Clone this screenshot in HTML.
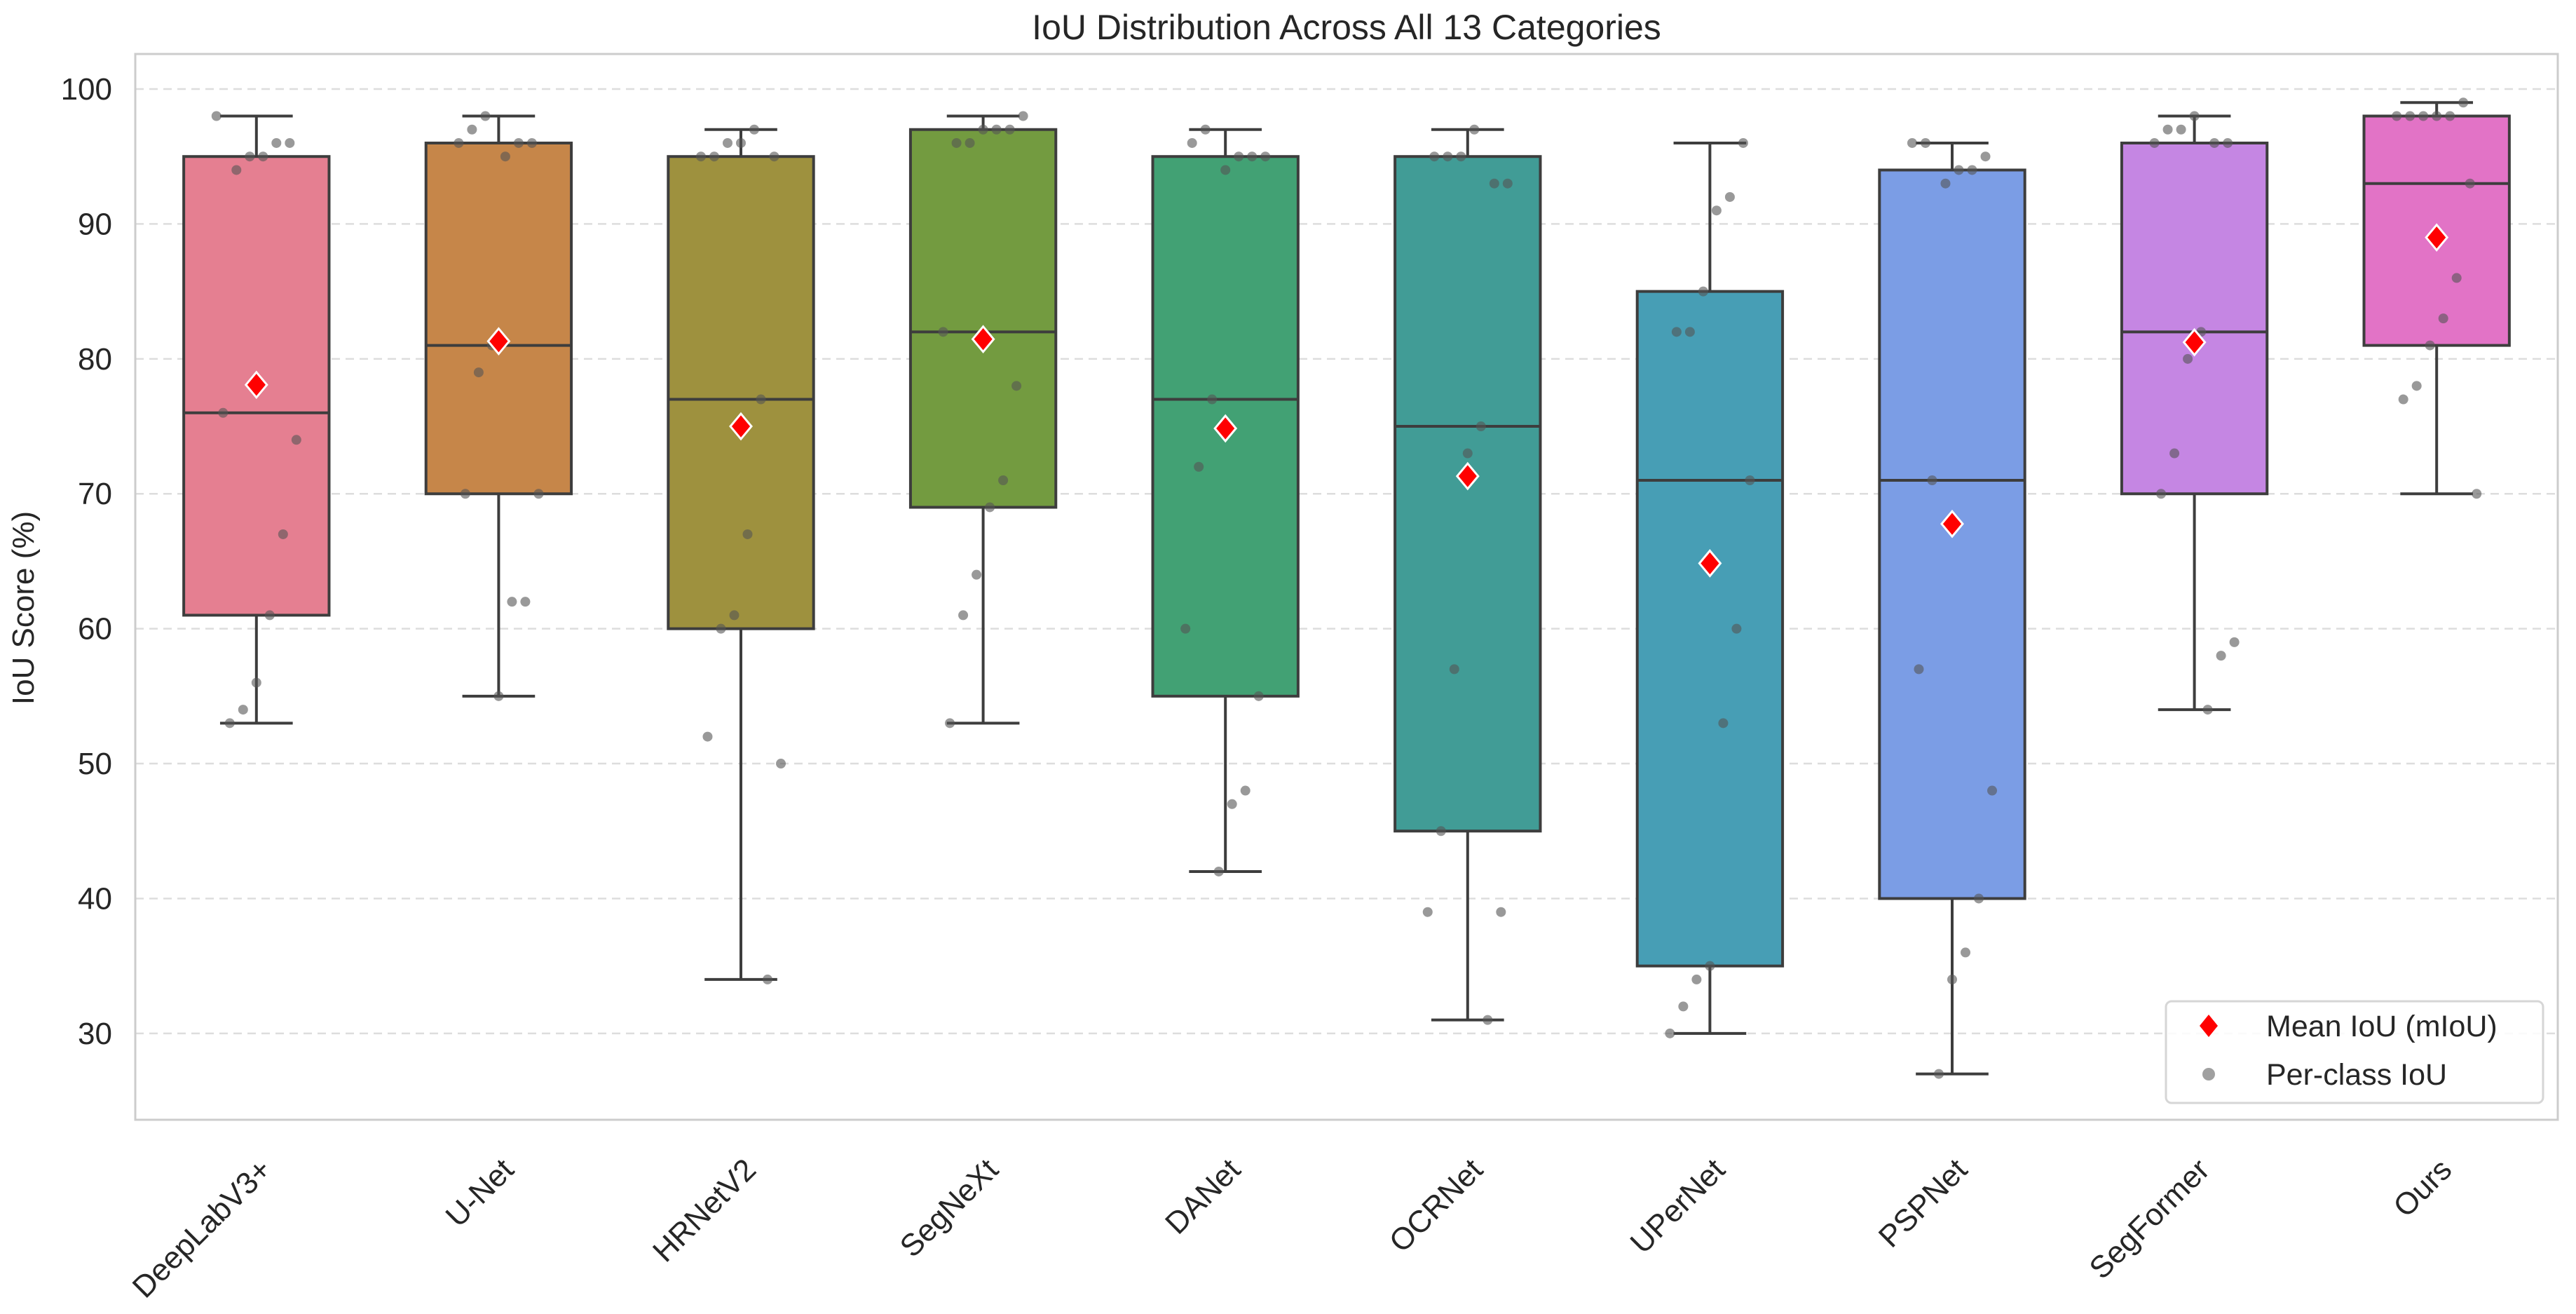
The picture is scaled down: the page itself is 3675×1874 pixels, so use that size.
<!DOCTYPE html>
<html><head><meta charset="utf-8"><style>
html,body{margin:0;padding:0;background:#fff;}
svg{display:block;font-family:"Liberation Sans","DejaVu Sans",sans-serif;}
</style></head><body>
<svg id="chart" width="3675" height="1874" viewBox="0 0 3675 1874" xmlns="http://www.w3.org/2000/svg">
<rect width="3675" height="1874" fill="#fff"/>
<text x="1921" y="56" text-anchor="middle" font-size="50" fill="#262626">IoU Distribution Across All 13 Categories</text>
<text transform="translate(48,867) rotate(-90)" text-anchor="middle" font-size="44" fill="#262626">IoU Score (%)</text>
<g id="grid"></g>
<g id="boxes"></g>
<g id="pts"></g>
<g id="means"></g>
<rect x="193" y="77" width="3456" height="1520" fill="none" stroke="#cccccc" stroke-width="3"/>
<g id="yticks"></g>
<g id="xticks"></g>
<g>
<rect x="3090" y="1428" width="538" height="145" rx="8" fill="#fff" fill-opacity="0.85" stroke="#d6d6d6" stroke-width="3"/>
<polygon points="3151,1447 3164,1463 3151,1479 3138,1463" fill="#ff0000"/>
<text x="3233" y="1478" font-size="43" fill="#262626">Mean IoU (mIoU)</text>
<circle cx="3151" cy="1532" r="9" fill="#808080" fill-opacity="0.75"/>
<text x="3233" y="1547" font-size="43" fill="#262626">Per-class IoU</text>
</g>
</svg>
<script>
const categories = ["DeepLabV3+","U-Net","HRNetV2","SegNeXt","DANet","OCRNet","UPerNet","PSPNet","SegFormer","Ours"];
const scores_deeplab = [98,96,96,95,95,94,76,74,67,61,56,54,53];
const scores_unet = [98,97,96,96,96,95,81,79,70,70,62,62,55];
const scores_hrnet = [97,96,96,95,95,95,77,67,61,60,52,50,34];
const scores_segnext = [98,97,97,97,96,96,82,78,71,69,64,61,53];
const scores_danet = [97,96,95,95,95,94,77,72,60,55,48,47,42];
const scores_ocrnet = [97,95,95,95,93,93,75,73,57,45,39,39,31];
const scores_upernet = [96,92,91,85,82,82,71,60,53,35,34,32,30];
const scores_pspnet = [96,96,95,94,94,93,71,57,48,40,36,34,27];
const scores_segformer = [98,97,97,96,96,96,82,80,73,70,59,58,54];
const scores_ours = [99,98,98,98,98,98,93,86,83,81,78,77,70];
const allScores = [scores_deeplab,scores_unet,scores_hrnet,scores_segnext,scores_danet,scores_ocrnet,scores_upernet,scores_pspnet,scores_segformer,scores_ours];
const yTicks = [30,40,50,60,70,80,90,100];
const colors = ["#e57f91","#c68649","#9e913e","#739b40","#42a174","#419c96","#479eb5","#7b9de5","#c586e3","#e273c6"];

const NS="http://www.w3.org/2000/svg";
const L=193,R=3649,T=77,B=1597;
const yMin=23.6,yMax=102.6;
const y=v=>B-(v-yMin)/(yMax-yMin)*(B-T);
const step=(R-L)/categories.length;
const x=i=>L+step*(i+0.5);
function mk(tag,attrs,parent){const e=document.createElementNS(NS,tag);for(const k in attrs)e.setAttribute(k,attrs[k]);document.getElementById(parent).appendChild(e);return e;}
function q(sorted,p){const pos=(sorted.length-1)*p;const lo=Math.floor(pos),hi=Math.ceil(pos);return sorted[lo]+(sorted[hi]-sorted[lo])*(pos-lo);}

yTicks.forEach(t=>{
  const g=mk('line',{x1:L,x2:R,y1:y(t),y2:y(t),stroke:'#dddddd','stroke-width':2.5,'stroke-dasharray':'12 8'},'grid');
  
  
  const tx=mk('text',{x:160,y:y(t)+15,'text-anchor':'end','font-size':44,fill:'#262626'},'yticks');
  tx.textContent=t;
  
  
});

const bw=step*0.6, cw=bw/2, ec='#3d3d3d';
allScores.forEach((s,i)=>{
  const so=[...s].sort((a,b)=>a-b);
  const q1=q(so,0.25),med=q(so,0.5),q3=q(so,0.75),iqr=q3-q1;
  const lo=so.find(v=>v>=q1-1.5*iqr), hi=[...so].reverse().find(v=>v<=q3+1.5*iqr);
  const cx=x(i);
  const w1=mk('line',{x1:cx,x2:cx,y1:y(q3),y2:y(hi),stroke:ec,'stroke-width':4},'boxes');
  
  
  const w2=mk('line',{x1:cx,x2:cx,y1:y(q1),y2:y(lo),stroke:ec,'stroke-width':4},'boxes');
  
  
  [hi,lo].forEach((v,k)=>{
    const c=mk('line',{x1:cx-cw/2,x2:cx+cw/2,y1:y(v),y2:y(v),stroke:ec,'stroke-width':4},'boxes');
    
    
  });
  const b=mk('rect',{x:cx-bw/2,y:y(q3),width:bw,height:y(q1)-y(q3),fill:colors[i],stroke:ec,'stroke-width':4},'boxes');
  
  
  const m=mk('line',{x1:cx-bw/2,x2:cx+bw/2,y1:y(med),y2:y(med),stroke:ec,'stroke-width':4},'boxes');
  
  
  s.forEach((v,j)=>{
    const jit=(((j*37+i*17)%13)/12-0.5)*bw*0.55;
    const p=mk('circle',{cx:cx+jit,cy:y(v),r:7,fill:'#555555','fill-opacity':0.6},'pts');
    
    
  });
  const mean=s.reduce((a,b)=>a+b,0)/s.length, my=y(mean);
  const d=mk('polygon',{points:`${cx},${my-18} ${cx+15},${my} ${cx},${my+18} ${cx-15},${my}`,fill:'#ff0000',stroke:'#fff','stroke-width':3},'means');
  
  
  const t=mk('text',{'text-anchor':'end','font-size':44,fill:'#262626',transform:`translate(${cx+24},${B+74}) rotate(-45)`},'xticks');
  t.textContent=categories[i];
  
  
});
</script>
</body></html>
